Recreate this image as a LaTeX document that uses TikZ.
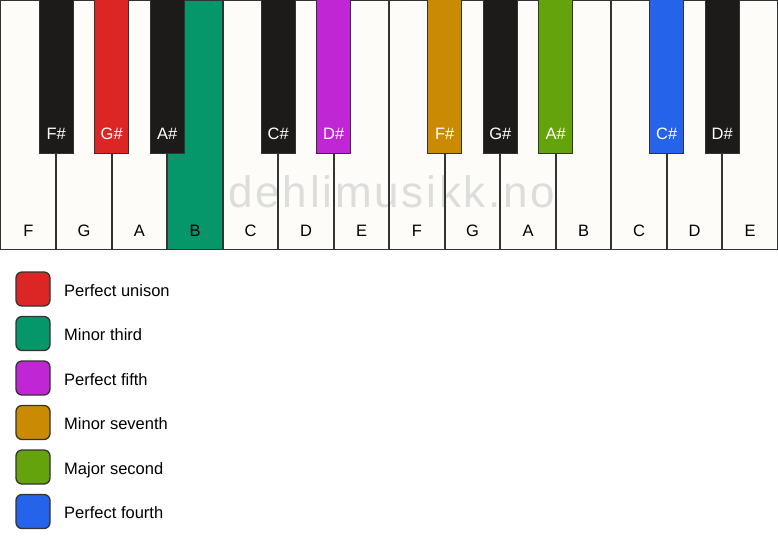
\documentclass[tikz,border=0pt]{standalone}
\usepackage{fontspec}
\setmainfont{Liberation Sans}
\newfontfamily\wmfont[LetterSpace=6.3]{Liberation Sans}
\definecolor{keywhite}{HTML}{FDFCF9}
\definecolor{keyblack}{HTML}{1C1B19}
\definecolor{edge}{HTML}{333333}
\definecolor{cred}{HTML}{DC2626}
\definecolor{cgreen}{HTML}{059669}
\definecolor{cpurple}{HTML}{C026D3}
\definecolor{corange}{HTML}{CA8A04}
\definecolor{clime}{HTML}{65A30D}
\definecolor{cblue}{HTML}{2563EB}
\definecolor{wmgray}{HTML}{DDDDDC}
\begin{document}
\begin{tikzpicture}[x=1pt,y=-1pt,
  wkeyfill/.style={rectangle,minimum width=55.5pt,minimum height=249pt,inner sep=0pt,draw=none},
  wkeyedge/.style={draw=edge,line width=1.3pt},
  bkey/.style={rectangle,minimum width=34pt,minimum height=155pt,inner sep=0pt,draw=edge,line width=1pt},
  klabel/.style={inner sep=0pt,anchor=base,font=\fontsize{16.5}{19}\selectfont},
  swatch/.style={rectangle,minimum size=34pt,inner sep=0pt,rounded corners=6pt,draw=edge,line width=1.3pt},
  legtext/.style={inner sep=0pt,anchor=base west,font=\fontsize{16.5}{19}\selectfont}]
\useasboundingbox (0,0) rectangle (778,550);
\fill[white] (0,0) rectangle (778,550);
% white key fills
\foreach \i/\c in {0/keywhite,1/keywhite,2/keywhite,3/cgreen,4/keywhite,5/keywhite,6/keywhite,7/keywhite,8/keywhite,9/keywhite,10/keywhite,11/keywhite,12/keywhite,13/keywhite}{
  \node[wkeyfill,fill=\c] (w\i) at ({0.75+(\i+0.5)*55.5},124.75) {};
}
% watermark
\node[inner sep=0pt,anchor=base,text=wmgray,font=\wmfont\fontsize{44}{50}\selectfont] (wm) at (392,207) {dehlimusikk.no};
% white key borders
\foreach \i in {0,...,13}{
  \draw[wkeyedge] (w\i.north west) rectangle (w\i.south east);
}
% white key labels
\foreach \i/\n in {0/F,1/G,2/A,3/B,4/C,5/D,6/E,7/F,8/G,9/A,10/B,11/C,12/D,13/E}{
  \node[klabel] (wl\i) at (w\i.center |- 0,236) {\n};
}
% black keys
\foreach \k/\c/\n in {1/keyblack/F\#,2/cred/G\#,3/keyblack/A\#,5/keyblack/C\#,6/cpurple/D\#,8/corange/F\#,9/keyblack/G\#,10/clime/A\#,12/cblue/C\#,13/keyblack/D\#}{
  \node[bkey,fill=\c] (b\k) at ({0.75+\k*55.5},75.5) {};
  \node[klabel,text=white] (bl\k) at (b\k.center |- 0,139) {\n};
}
% legend
\foreach \j/\c/\t in {0/cred/Perfect unison,1/cgreen/Minor third,2/cpurple/Perfect fifth,3/corange/Minor seventh,4/clime/Major second,5/cblue/Perfect fourth}{
  \node[swatch,fill=\c] (s\j) at (33,{289+44.5*\j}) {};
  \node[legtext] (t\j) at (64,{296+44.5*\j}) {\t};
}
\end{tikzpicture}
\end{document}
